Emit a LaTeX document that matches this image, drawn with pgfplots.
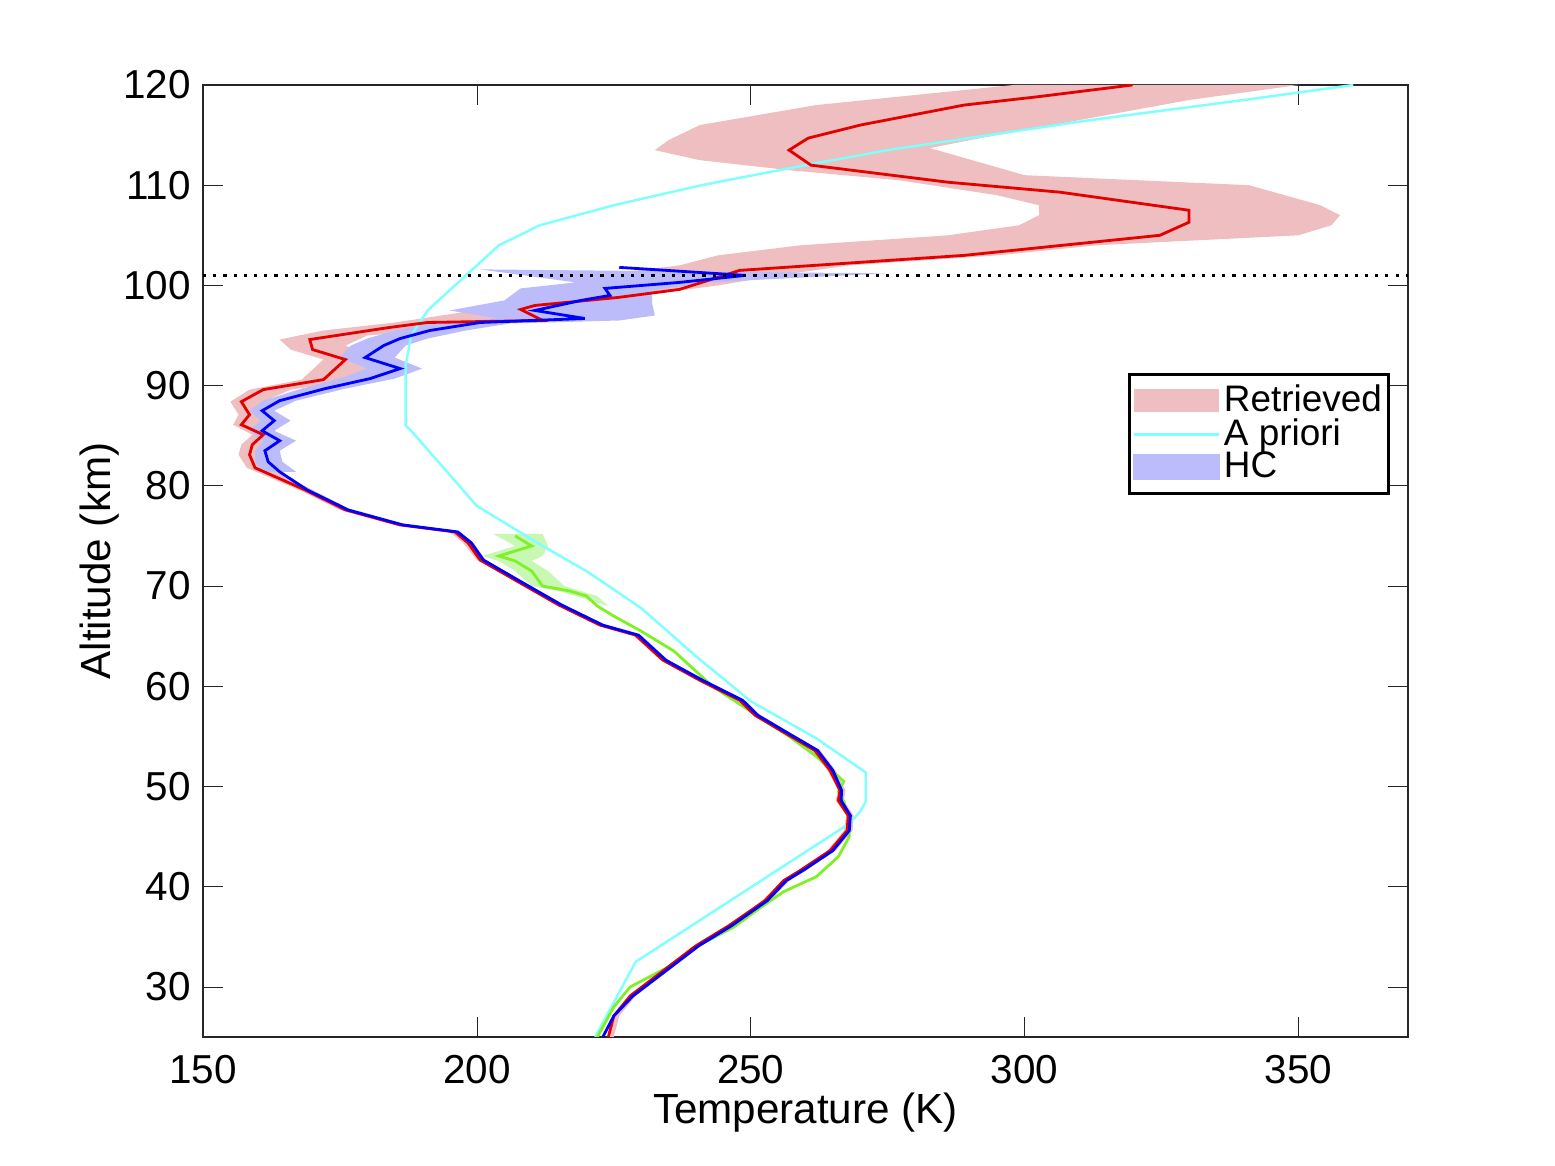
\documentclass[border=0pt]{standalone}
\usepackage{pgfplots}
\pgfplotsset{compat=1.18}
\usepackage{fontspec}
\setmainfont{Liberation Sans}
\definecolor{rband}{RGB}{238,190,192}
\definecolor{bband}{RGB}{188,188,250}
\definecolor{gband}{RGB}{200,248,180}
\definecolor{apri}{RGB}{128,255,255}
\definecolor{gline}{RGB}{128,240,40}
\begin{document}
\begin{tikzpicture}
\path (-20.3mm,-12.9mm) rectangle (135.2mm,103.7mm);
\begin{axis}[at={(0,0)},anchor=south west,scale only axis,width=120.5mm,height=95.2mm,
xmin=150,xmax=370,ymin=25,ymax=120,
xtick={150,200,...,350},ytick={30,40,...,120},
tick label style={font=\fontsize{11.5}{13}\selectfont},
xticklabel style={yshift=-0.6mm},
label style={font=\fontsize{12}{14}\selectfont},
/pgf/number format/assume math mode=true,
xlabel={Temperature (K)},ylabel={Altitude (km)},
xlabel style={yshift=1.5mm},ylabel style={yshift=-2mm},
axis line style={line width=0.6pt,black!85},
tick style={black!85},major tick length=2mm,
legend style={at={(0.768,0.697)},anchor=north west,font=\fontsize{10.5}{10}\selectfont,
 draw=black,line width=0.8pt,inner sep=0.8pt,row sep=-3.5pt,
 nodes={inner xsep=1pt}},
legend cell align=left,
]
% red band
\addplot[fill=rband,draw=none,legend image code/.code={\fill[rband] (0mm,-1.1mm) rectangle (8.5mm,1.2mm);}] coordinates {
(224,25)(225,27)(228,29)(234,31.6)(240,34)(246,36)(252,38.6)(256,40.6)(259,41.6)(264,43.6)(267,45.6)(267.5,47.1)(265.5,48.6)(266,49.6)(264,51.6)(261,53.6)(256.5,55.1)(250.5,57.1)(247.5,58.6)(240.5,60.6)(233.5,62.6)(228.5,65.1)(222,66.1)(214.5,68.1)(206.5,70.6)(200,72.6)(197.5,74.3)(195,75.4)(185,76.1)(175,77.6)(167.5,79.6)(158,81.8)(156.5,83.1)(157,84.1)(159,85.1)(155.5,86.1)(156.5,87.1)(155,88.4)(158.5,89.6)(168,90.6)(172,92.6)(166,93.6)(164,94.6)(172,95.5)(185,96.3)(196,97.2)(202,97.8)(218,98.8)(230,99.6)(240,100.3)(222,101)(237,102)(244,103)(259,104)(286,105)(299,106)(302.6,107)(302.6,108)(295,109)(277,110.5)(257,111.5)(240.7,112.5)(232.5,113.5)(235,114.5)(240.7,116)(262,118)(298,120)
(350,120)(330,118.5)(310,116.5)(290,114.5)(282.7,113.7)(300,111)(341,110)(354,108)(357.6,107)(356,106)(350,105)(313,104)(295,103)(268,102)(255,101)(244,100)(230,99)(216,98)(214,97)(198,95.8)(180,95)(176,94)(182,92.6)(178,90.6)(166,89.6)(161,88.4)(163,87.1)(160,86.1)(164,85.1)(162,84.1)(161,83.1)(162,81.8)(170,79.6)(177,77.6)(187,76.1)(197,75.4)(199.4,74.3)(201.6,72.6)(208,70.6)(216,68.1)(223.5,66.1)(230,65.1)(235,62.6)(241.7,60.6)(249,58.6)(251.8,57.1)(258,55.1)(262.7,53.6)(265.5,51.6)(267.3,49.6)(267,48.6)(268.8,47.1)(268.6,45.6)(265.5,43.6)(260,41.6)(257,40.6)(253.6,38.6)(247,36.1)(241,34.1)(235,31.6)(229,29.1)(226,27.1)(225,25)
} -- cycle;
\addlegendentry{Retrieved}
% blue band
\addplot[fill=bband,draw=none,forget plot] coordinates {
(161,81.4)(159.5,82.4)(159.5,83.5)(161,84.5)(158.5,85.5)(160.5,86.5)(158.5,87.5)(161,88.5)(168,89.7)(175,90.7)(180,91.7)(175,92.8)(177,94)(180,94.7)(185,95.5)(192,96.3)(204,96.7)(195,97.5)(205,98.5)(208,99.7)(218,100.3)(200.6,101.6)
(275,101.2)(260,100.8)(242,100.3)(232,99.5)(232,98.2)(232.5,97)(226,96.5)(206,96.2)(198,95.5)(191,94.7)(187,94)(185,92.8)(190,91.7)(185,90.7)(176,89.7)(167,88.5)(163,87.5)(166,86.5)(163,85.5)(167,84.5)(164,83.5)(164.5,82.4)(167,81.4)
} -- cycle;
% green band
\addplot[fill=gband,draw=none,forget plot] coordinates {
(203,75.2)(207,74)(201,73)(204,72.5)(207,71.5)(210,70)(215,69.5)(218,69)
(224,68)(222,69)(219,69.5)(216,70)(213,71.5)(210,72.5)(212,73)(213,74)(212,75.2)
} -- cycle;
% a priori
\addplot[apri,line width=0.7pt,legend image code/.code={\draw[apri,line width=0.7pt] (0mm,0mm) -- (8.5mm,0mm);}] coordinates {
(221.6,25)(229,32.5)(268,46.3)(270,47.5)(271,48.5)(271,51.4)(262,54.8)(250,58.5)(240,63)(230,67.8)(220,71.5)(212,74)(200,78)(188,85.5)(187,86)(187,92)(188,95)(191,97.5)(196,100)(200,102)(204,104)(211.5,106)(225,108)(241,110)(260,112)(275,113.5)(312,116.5)(340,118.5)(360,120)
};
\addlegendentry{A priori}
\addlegendimage{legend image code/.code={\fill[bband] (0mm,-1.1mm) rectangle (8.5mm,1.2mm);}}
\addlegendentry{HC}
% green line
\addplot[gline,line width=0.8pt,forget plot] coordinates {
(207,75)(210,74)(204,73)(207,72.5)(210,71.5)(212,70)(217,69.5)(220,69)(222,68)(225,67)(230,65.5)(236,63.5)(243,60)(250,57.5)(257,55)(262,53)(265,51.5)(267,50.5)(266,49.5)(267,48.5)(268,46.5)(268,45)(266,43)(262,41)(256,39.5)(252,38)(247,36)(240,34)(235,32)(228,30)(225,28)(223,26)(222,25)
};
% red line
\addplot[red!90!black,line width=0.8pt,forget plot] coordinates {
(224,25)(225,27.1)(228,29.1)(234,31.6)(240,34.1)(246,36.1)(252.6,38.6)(256,40.6)(259,41.6)(264.5,43.6)(267.6,45.6)(267.8,47.1)(266,48.6)(266.3,49.6)(264.5,51.6)(261.7,53.6)(257,55.1)(250.8,57.1)(248,58.6)(240.7,60.6)(234,62.6)(229,65.1)(222.5,66.1)(215,68.1)(207,70.6)(200.6,72.6)(198.4,74.3)(196,75.4)(186,76.1)(176,77.6)(168.6,79.6)(159.5,81.8)(158.5,83.1)(159,84.1)(161,85.1)(157,86.1)(158.5,87.1)(157,88.4)(161,89.6)(172,90.6)(176,92.6)(170,93.6)(169.5,94.6)(184,95.8)(191,96.3)(212,96.5)(208,97.6)(210.6,98)(225.8,98.8)(237,99.6)(248,101.5)(289,103)(324.7,105)(330,106.3)(330,107.5)(306.5,109.3)(286,110.3)(261,112)(257,113.5)(260.5,114.7)(270,116)(289,118)(302,118.8)(319.7,120)
};
% blue line
\addplot[blue,line width=0.8pt,forget plot] coordinates {
(226,101.8)(249,101)(237,100.3)(223.4,99.7)(224.3,99)(219,98.5)(210.6,97.5)(219.7,96.7)(200.6,96.3)(191.4,95.5)(186,94.7)(183,94)(179.6,92.8)(186,91.7)(180.5,90.7)(172.3,89.7)(164,88.5)(160.8,87.5)(163,86.5)(160.8,85.5)(164,84.5)(161.3,83.5)(161.9,82.4)(164,81.4)(169,79.6)(176.5,77.6)(186.5,76.1)(196.5,75.4)(199,74.3)(201.2,72.6)(207.5,70.6)(215.5,68.1)(223,66.1)(229.5,65.1)(234.5,62.6)(241.2,60.6)(248.5,58.6)(251.3,57.1)(257.5,55.1)(262.2,53.6)(265,51.6)(266.6,49.6)(266.5,48.6)(268.2,47.1)(268,45.6)(265,43.6)(259.5,41.6)(256.5,40.6)(253,38.6)(246.5,36.1)(240.5,34.1)(234.5,31.6)(228.5,29.1)(225,27.1)(223,25)
};
\draw[dotted,line width=0.9pt] (axis cs:150,101) -- (axis cs:370,101);
\end{axis}
\end{tikzpicture}
\end{document}
